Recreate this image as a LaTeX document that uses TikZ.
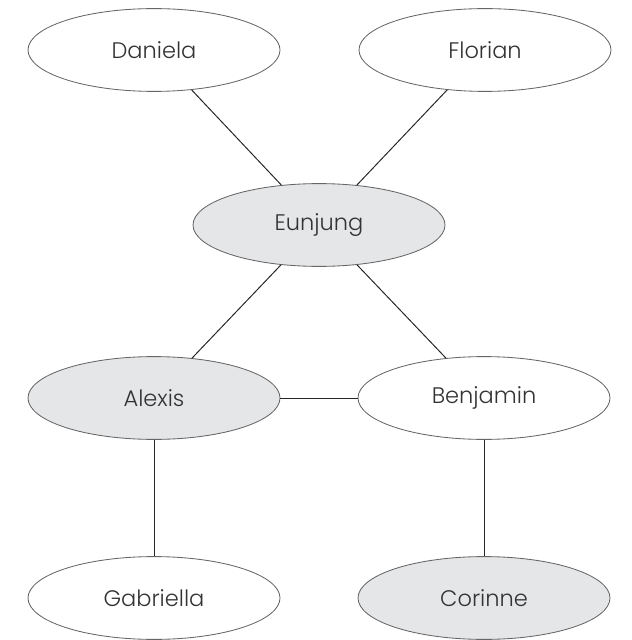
\documentclass[tikz,border=0pt]{standalone}
\usepackage{fontspec}
\IfFontExistsTF{Poppins Light}{\setmainfont{Poppins Light}}{\setmainfont{Poppins}}
\usepackage{xcolor}
\usepackage{tikz}
\usetikzlibrary{shapes.geometric}

\definecolor{rimgray}{HTML}{666666}
\definecolor{fillgray}{HTML}{E5E6E8}
\definecolor{txtgray}{HTML}{333333}

\begin{document}
\begin{tikzpicture}[
      font=\fontsize{16}{19}\selectfont,
      person/.style={ellipse, draw=rimgray, line width=0.6pt, fill=white,
                     minimum width=6.3cm, minimum height=2.07cm, inner sep=0pt,
                     text=txtgray},
      marked/.style={person, fill=fillgray},
      tie/.style={black!85, line width=0.7pt},
    ]
    \useasboundingbox (0,0) rectangle (15.8,-16);

    % people
    \node[person] (dan) at (3.85,-1.25)   {Daniela};
    \node[person] (flo) at (12.125,-1.25) {Florian};
    \node[marked] (eun) at (7.975,-5.625) {Eunjung};
    \node[marked] (ale) at (3.85,-9.95)   {Alexis};
    \node[person] (ben) at (12.1,-9.95)   {Benjamin};
    \node[person] (gab) at (3.85,-14.95)  {Gabriella};
    \node[marked] (cor) at (12.1,-14.95)  {Corinne};

    % ties
    \draw[tie] (dan) -- (eun);
    \draw[tie] (flo) -- (eun);
    \draw[tie] (eun) -- (ale);
    \draw[tie] (eun) -- (ben);
    \draw[tie] (ale) -- (ben);
    \draw[tie] (ale) -- (gab);
    \draw[tie] (ben) -- (cor);
  \end{tikzpicture}
\end{document}
